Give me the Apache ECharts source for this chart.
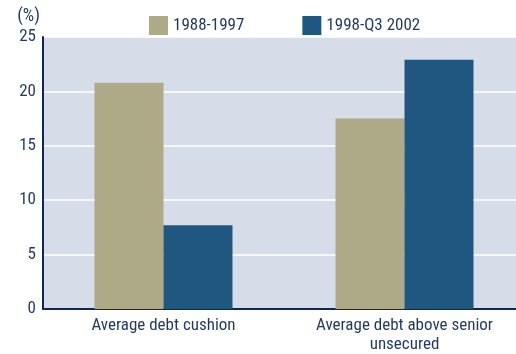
<!DOCTYPE html>
<html>
<head>
<meta charset="utf-8">
<script src="https://cdn.jsdelivr.net/npm/echarts@6/dist/echarts.min.js"></script>
<style>
  html, body { margin: 0; padding: 0; background: #fff; overflow: hidden; }
  #chart { width: 525px; height: 354px; }
</style>
</head>
<body>
<div id="chart"></div>
<script>
var categories = ['Average debt cushion', 'Average debt above senior\nunsecured'];
var seriesNames = ['1988-1997', '1998-Q3 2002'];
var period1 = [20.8, 17.5];
var period2 = [7.7, 22.9];

(function () {
  var font = '"Liberation Sans Narrow", "Roboto Condensed", "DejaVu Sans Condensed", sans-serif';
  var textColor = '#1f3a5f';
  var myChart = echarts.init(document.getElementById('chart'));
  var option = {
    animation: false,
    textStyle: { fontFamily: font },
    legend: {
      top: 11,
      left: 144,
      itemWidth: 19,
      itemHeight: 19,
      itemGap: 58,
      icon: 'rect',
      textStyle: { color: textColor, fontSize: 17, fontFamily: font },
      data: seriesNames
    },
    grid: {
      left: 43,
      right: 0,
      top: 37,
      bottom: 45,
      show: true,
      backgroundColor: '#d6dde9',
      borderWidth: 0
    },
    xAxis: {
      type: 'category',
      data: categories,
      axisLine: { lineStyle: { color: '#0c2a4f', width: 2 } },
      axisTick: { show: false },
      axisLabel: { color: textColor, fontSize: 17, fontFamily: font, lineHeight: 19, margin: 7 }
    },
    yAxis: {
      type: 'value',
      min: 0,
      max: 25,
      interval: 5,
      name: '(%)',
      nameGap: 12,
      nameTextStyle: { color: textColor, fontSize: 18, fontFamily: font, align: 'right', padding: [0, 3, 0, 0] },
      axisLine: { show: true, lineStyle: { color: '#0c2a4f', width: 2 } },
      axisTick: { show: false },
      axisLabel: { color: textColor, fontSize: 17, fontFamily: font, margin: 7 },
      splitLine: { lineStyle: { color: '#ffffff', width: 1.5 } }
    },
    series: [
      {
        name: seriesNames[0],
        type: 'bar',
        data: period1,
        barWidth: 69,
        barGap: '0%',
        itemStyle: { color: '#aeaa88' }
      },
      {
        name: seriesNames[1],
        type: 'bar',
        data: period2,
        barWidth: 69,
        barGap: '0%',
        itemStyle: { color: '#1f5780' }
      }
    ]
  };
  myChart.setOption(option);
  window.addEventListener('resize', function () {
    myChart.resize();
  });
})();
</script>
</body>
</html>
